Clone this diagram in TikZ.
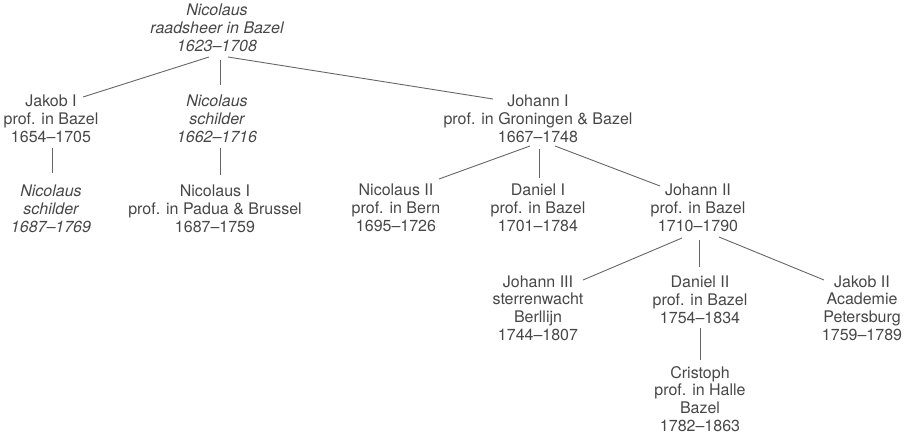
\documentclass[tikz,border=0pt]{standalone}
\usepackage{fontspec}
\setmainfont{TeX Gyre Heros}
\usetikzlibrary{calc}
\definecolor{ink}{HTML}{474747}
\definecolor{wire}{HTML}{666666}
\tikzset{
  person/.style={align=center, inner sep=0pt, text=ink,
    font=\fontsize{16}{17.8}\selectfont},
  itperson/.style={person, font=\fontsize{16}{17.8}\selectfont\itshape},
  link/.style={draw=wire, line width=0.9pt}
}
\begin{document}
\begin{tikzpicture}[x=1pt,y=-1pt]
\useasboundingbox (0,0) rectangle (909,436);
\node[itperson] (top)  at (217,28)  {Nicolaus\\raadsheer in Bazel\\1623–1708};
\node[person]   (jak1) at (51,119)  {Jakob I\\prof. in Bazel\\1654–1705};
\node[itperson] (nics) at (217,119) {Nicolaus\\schilder\\1662–1716};
\node[person]   (joh1) at (538,119) {Johann I\\prof. in Groningen \& Bazel\\1667–1748};
\node[itperson] (nics2) at (51,209) {Nicolaus\\schilder\\1687–1769};
\node[person]   (nic1) at (215,209) {Nicolaus I\\prof. in Padua \& Brussel\\1687–1759};
\node[person]   (nic2) at (396,208) {Nicolaus II\\prof. in Bern\\1695–1726};
\node[person]   (dan1) at (538,208) {Daniel I\\prof. in Bazel\\1701–1784};
\node[person]   (joh2) at (698,208) {Johann II\\prof. in Bazel\\1710–1790};
\node[person]   (joh3) at (538,308) {Johann III\\sterrenwacht\\Berllijn\\1744–1807};
\node[person]   (dan2) at (700,300) {Daniel II\\prof. in Bazel\\1754–1834};
\node[person]   (jak2) at (862,308) {Jakob II\\Academie\\Petersburg\\1759–1789};
\node[person]   (cri)  at (700,399) {Cristoph\\prof. in Halle\\Bazel\\1782–1863};

\draw[link] ($(top)+(-8,29)$) -- ($(jak1)+(32,-22)$);
\draw[link] ($(top)+(3,32)$) -- ($(nics)+(3,-34)$);
\draw[link] ($(top)+(11,29)$) -- ($(joh1)+(-45,-20)$);
\draw[link] ($(jak1)+(1,29)$) -- ($(nics2)+(1,-36)$);
\draw[link] ($(nics)+(3,29)$) -- ($(nic1)+(5,-34)$);
\draw[link] ($(joh1)+(-8,27)$) -- ($(nic2)+(43,-29)$);
\draw[link] ($(joh1)+(1,30)$) -- ($(dan1)+(1,-30)$);
\draw[link] ($(joh1)+(17,27)$) -- ($(joh2)+(-38,-22)$);
\draw[link] ($(joh2)+(-16,30)$) -- ($(joh3)+(45,-28)$);
\draw[link] ($(joh2)+(1,32)$) -- ($(dan2)+(-1,-33)$);
\draw[link] ($(joh2)+(21,29)$) -- ($(jak2)+(-38,-28)$);
\draw[link] ($(dan2)+(0,28)$) -- ($(cri)+(0,-39)$);
\end{tikzpicture}
\end{document}
